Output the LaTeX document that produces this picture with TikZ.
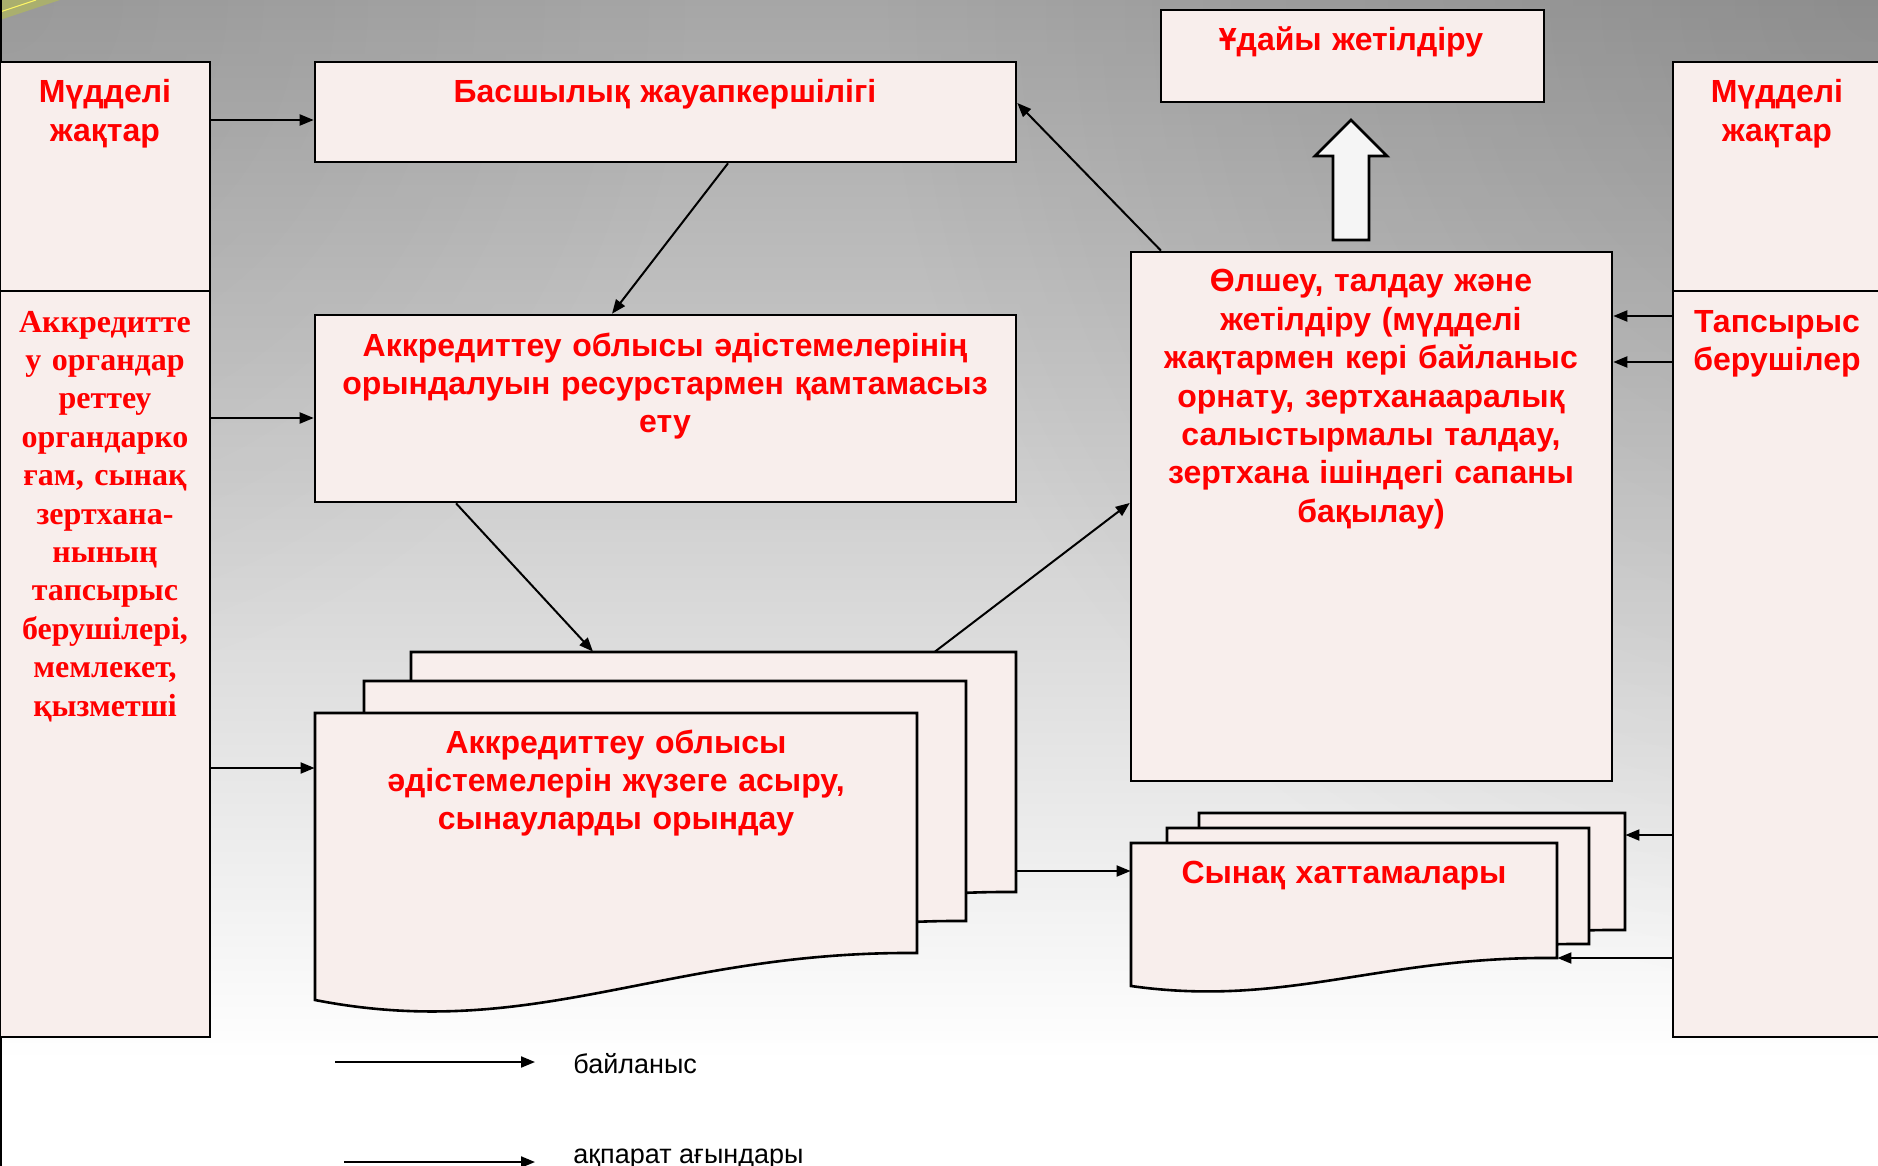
\documentclass[tikz,border=0pt]{standalone}
\usepackage{fontspec}
\setmainfont{Liberation Sans}
\newfontfamily\serifb{Liberation Serif}
\usetikzlibrary{arrows.meta,fit,fadings}
\definecolor{boxfill}{RGB}{248,238,236}
\definecolor{txtred}{RGB}{255,0,0}
\definecolor{bgtop}{RGB}{166,166,166}
\definecolor{olivedeco}{RGB}{170,175,110}
\tikzfading[name=cornerfade, inner color=transparent!0, outer color=transparent!100]
\begin{document}
\begin{tikzpicture}[x=0.5pt,y=-0.5pt,
  box/.style={draw=black, line width=1.3pt, fill=boxfill, inner sep=0pt},
  area/.style={inner sep=0pt, draw=none},
  lbl/.style={text=txtred, font=\bfseries\fontsize{16}{19.2}\selectfont, align=center, anchor=base, inner sep=0pt, text width=#1},
  lbl/.default=300pt,
  slbl/.style={text=txtred, font=\serifb\bfseries\fontsize{16}{19.2}\selectfont, align=center, anchor=base, inner sep=0pt, text width=100pt},
  legtxt/.style={font=\fontsize{13.5}{16}\selectfont, anchor=base west, inner sep=0pt},
  conn/.style={line width=1pt, -{Triangle[length=7pt,width=5.5pt]}},
  page/.style={draw=black, line width=1.3pt, fill=boxfill}
]
% background
\useasboundingbox (0,0) rectangle (1878,1166);
\fill[white] (0,0) rectangle (1878,1166);
\shade[top color=bgtop, bottom color=white] (0,0) rectangle (1878,1060);
\begin{scope}
\clip (0,0) rectangle (1878,1166);
\fill[black, opacity=0.15, path fading=cornerfade] (1878,0) circle (1000);
\fill[black, opacity=0.08, path fading=cornerfade] (0,0) circle (700);
\end{scope}
\fill[olivedeco] (0,0) -- (60,0) -- (0,20) -- cycle;
\draw[yellow!60!white, line width=0.5pt] (0,12) -- (36,0);
\draw[line width=1pt] (1,0) -- (1,1166);

% side boxes
\node[box, fit={(0,62)(210,291)}] (lt) {};
\node[box, fit={(0,291)(210,1037)}] (lb) {};
\node[box, fit={(1673,62)(1895,291)}] (rt) {};
\node[box, fit={(1673,291)(1895,1037)}] (rb) {};

% main boxes
\node[box, fit={(315,62)(1016,162)}] (bas) {};
\node[box, fit={(1161,10)(1544,102)}] (uday) {};
\node[box, fit={(315,315)(1016,502)}] (akk) {};
\node[box, fit={(1131,252)(1612,781)}] (olsh) {};

% hollow arrow
\filldraw[fill=gray!8, draw=black, line width=1.3pt] (1333,240) -- (1333,156) -- (1315,156) -- (1351,120) -- (1387,156) -- (1369,156) -- (1369,240) -- cycle;

% big document stack
\filldraw[page] (411,652) -- (1016,652) -- (1016,892) .. controls (761,890) and (631,982) .. (411,939) -- cycle;
\filldraw[page] (364,681) -- (966,681) -- (966,921) .. controls (714,919) and (584,1011) .. (364,968) -- cycle;
\filldraw[page] (315,713) -- (917,713) -- (917,953) .. controls (665,951) and (535,1043) .. (315,1000) -- cycle;
\node[area, fit={(411,652)(1016,892)}] (bigback) {};
\node[area, fit={(315,713)(917,953)}] (bigfront) {};

% small document stack
\filldraw[page] (1199,813) -- (1625,813) -- (1625,930) .. controls (1449,928) and (1354,980) .. (1199,958) -- cycle;
\filldraw[page] (1167,828) -- (1589,828) -- (1589,944) .. controls (1413,942) and (1318,994) .. (1167,972) -- cycle;
\filldraw[page] (1131,843) -- (1557,843) -- (1557,958) .. controls (1381,956) and (1286,1008) .. (1131,986) -- cycle;
\node[area, fit={(1199,813)(1625,930)}] (sback) {};
\node[area, fit={(1131,843)(1557,958)}] (sfront) {};

% texts
\node[lbl=100pt] (lt-t) at (105,103) {Мүдделі\\жақтар};
\node[slbl] (lb-t) at (105,332) {Аккредитте\\у органдар\\реттеу\\органдарко\\ғам, сынақ\\зертхана-\\нының\\тапсырыс\\берушілері,\\мемлекет,\\қызметші};
\node[lbl=100pt] (rt-t) at (1777,103) {Мүдделі\\жақтар};
\node[lbl=100pt] (rb-t) at (1777,332) {Тапсырыс\\берушілер};
\node[lbl] (bas-t) at (665,103) {Басшылық жауапкершілігі};
\node[lbl] (uday-t) at (1351,51) {Ұдайы жетілдіру};
\node[lbl=340pt] (akk-t) at (665,356) {Аккредиттеу облысы әдістемелерінің\\орындалуын ресурстармен қамтамасыз\\ету};
\node[lbl=240pt] (olsh-t) at (1371,292) {Өлшеу, талдау және\\жетілдіру (мүдделі\\жақтармен кері байланыс\\орнату, зертханааралық\\салыстырмалы талдау,\\зертхана ішіндегі сапаны\\бақылау)};
\node[lbl] (bf-t) at (616,753) {Аккредиттеу облысы\\әдістемелерін жүзеге асыру,\\сынауларды орындау};
\node[lbl] (sf-t) at (1344,883) {Сынақ хаттамалары};

% connectors
\draw[conn] (lt.east |- 0,120) -- (bas.west |- 0,120);
\draw[conn] (lb.east |- 0,418) -- (akk.west |- 0,418);
\draw[conn] (lb.east |- 0,768) -- (bigfront.west |- 0,768);
\draw[conn] (bas.south -| 728,0) -- (akk.north -| 612,0);
\draw[conn] (akk.south -| 456,0) -- (bigback.north -| 593,0);
\draw[conn] (bigback.north -| 935,0) -- (olsh.west |- 0,503);
\draw[conn] (olsh.north -| 1161,0) -- (bas.east |- 0,103);
\draw[conn] (bigback.east |- 0,871) -- (sfront.west |- 0,871);
\draw[conn] (rb.west |- 0,316) -- (olsh.east |- 0,316);
\draw[conn] (rb.west |- 0,362) -- (olsh.east |- 0,362);
\draw[conn] (rb.west |- 0,835) -- (sback.east |- 0,835);
\draw[conn] (rb.west |- 0,958) -- (sfront.east |- 0,958);

% legend
\coordinate (lg1a) at (335,1062);
\coordinate (lg1b) at (535,1062);
\coordinate (lg2a) at (344,1162);
\coordinate (lg2b) at (535,1162);
\draw[conn] (lg1a) -- (lg1b);
\draw[conn] (lg2a) -- (lg2b);
\node[legtxt] (lg1-t) at (573,1073) {байланыс};
\node[legtxt] (lg2-t) at (573,1163) {ақпарат ағындары};
\end{tikzpicture}
\end{document}
